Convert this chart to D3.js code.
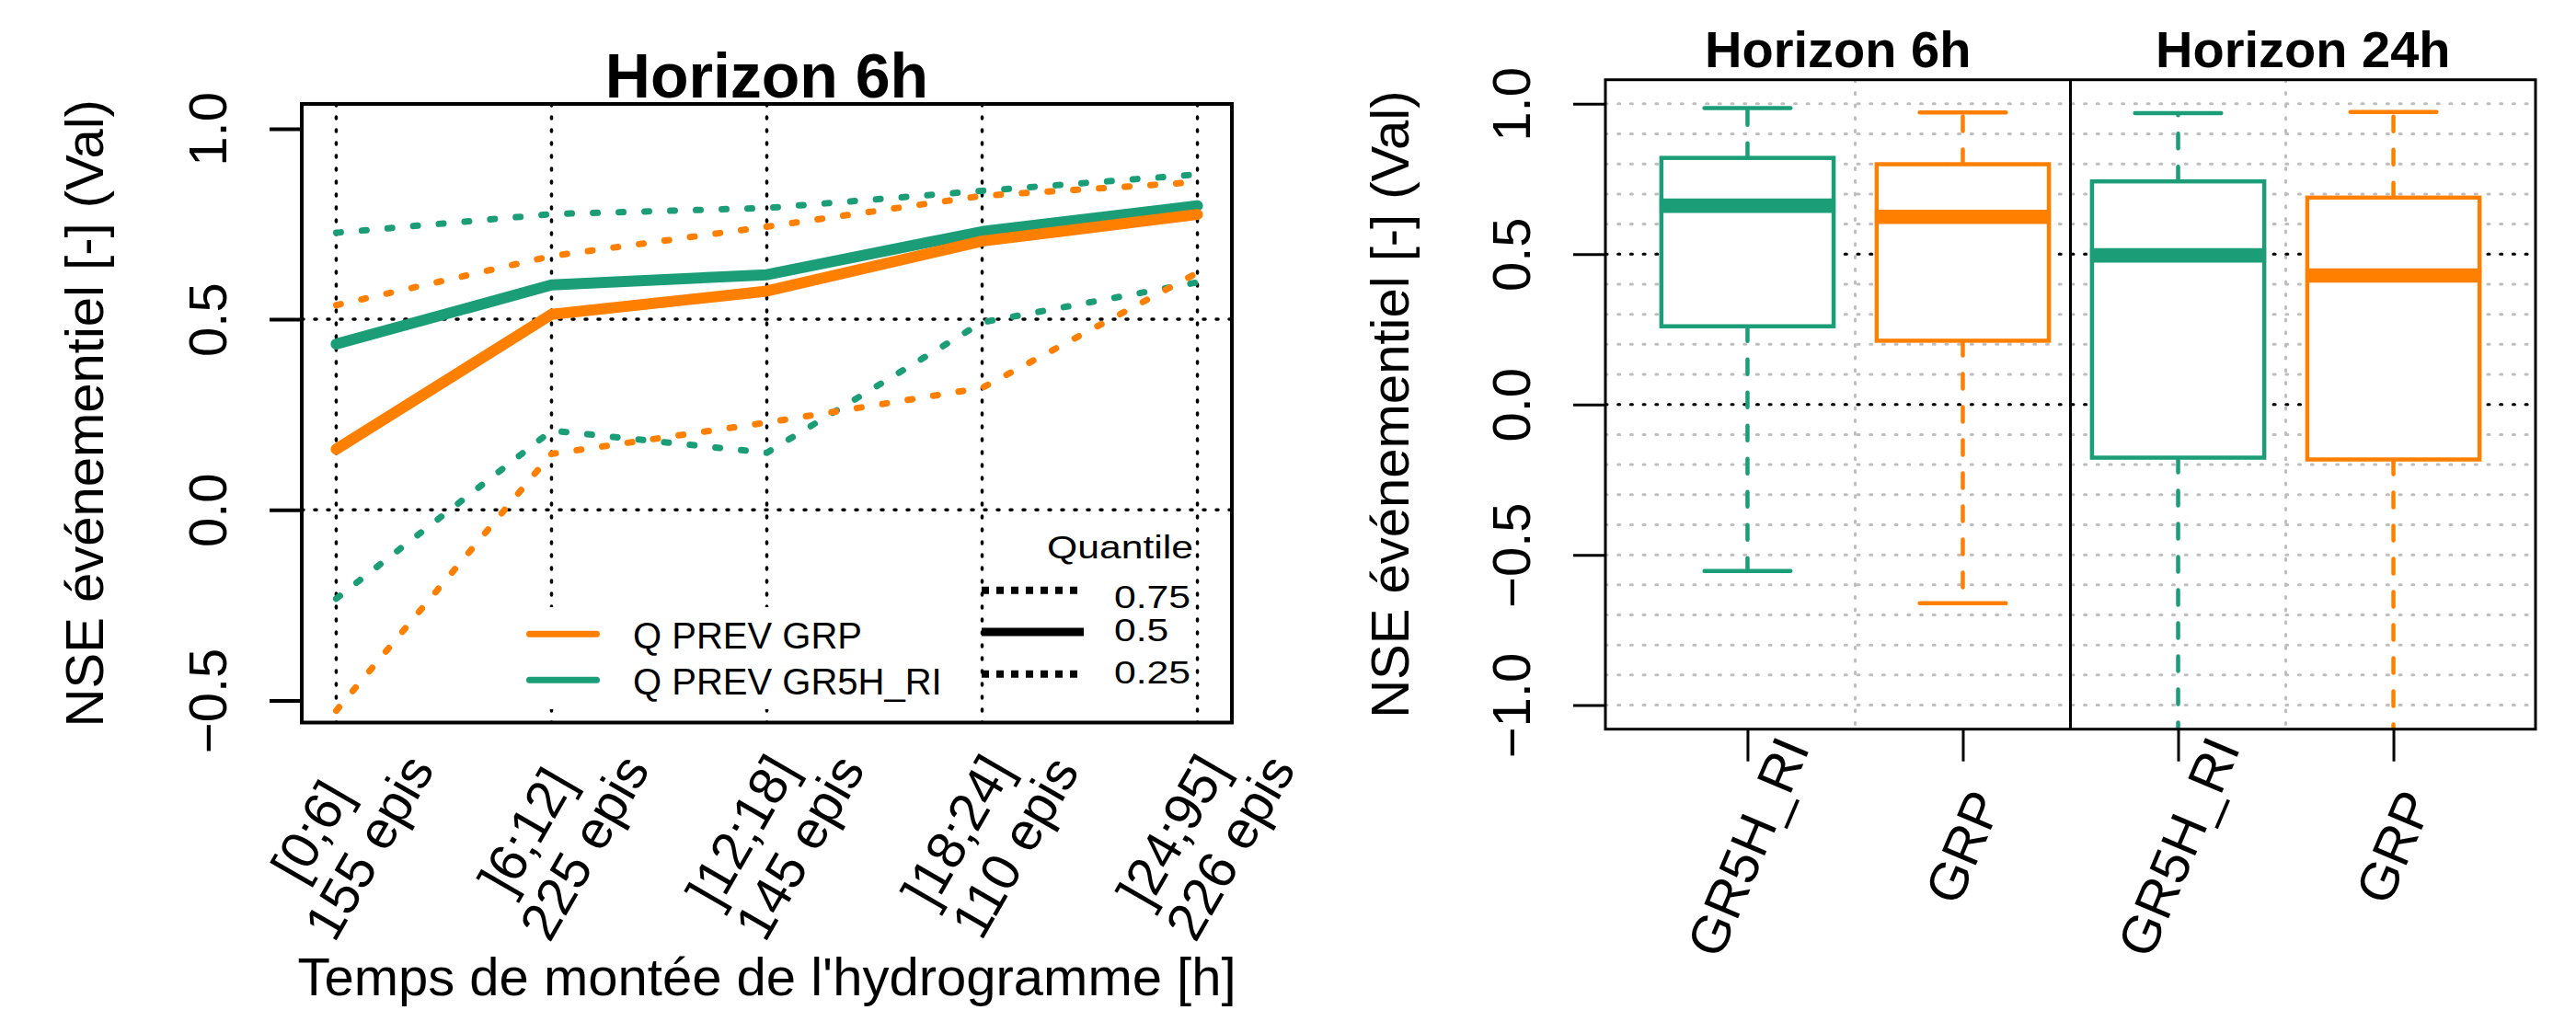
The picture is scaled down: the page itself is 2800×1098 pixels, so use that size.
<!DOCTYPE html>
<html><head><meta charset="utf-8">
<script src="https://cdn.jsdelivr.net/npm/d3@7"></script>
<style>
body{margin:0;background:#fff}
svg{display:block}
text{font-family:"Liberation Sans",Arial,sans-serif;fill:#000}
</style>
</head><body>
<svg id="c" width="2800" height="1098"></svg>
<script>
// ---------------- DATA ----------------
const categories = ["[0;6]", "]6;12]", "]12;18]", "]18;24]", "]24;95]"];
const episodes   = [155, 225, 145, 110, 226];
const seriesNames = ["Q PREV GRP", "Q PREV GR5H_RI"];
const grpQ25  = [-0.527, 0.147, 0.229, 0.320, 0.622];
const grpQ50  = [0.159, 0.513, 0.574, 0.705, 0.775];
const grpQ75  = [0.537, 0.666, 0.743, 0.824, 0.860];
const gr5hQ25 = [-0.233, 0.208, 0.150, 0.492, 0.597];
const gr5hQ50 = [0.435, 0.590, 0.617, 0.730, 0.798];
const gr5hQ75 = [0.727, 0.776, 0.792, 0.837, 0.880];
const quantileLabels = ["0.75", "0.5", "0.25"];
const yTicksLeft = [-0.5, 0, 0.5, 1];

const horizons  = ["Horizon 6h", "Horizon 24h"];
const boxModels = ["GR5H_RI", "GRP", "GR5H_RI", "GRP"];
const boxLow  = [-0.554, -0.661, -1.25, -1.25];
const boxQ1   = [0.260, 0.212, -0.177, -0.183];
const boxMed  = [0.661, 0.624, 0.496, 0.429];
const boxQ3   = [0.820, 0.799, 0.742, 0.688];
const boxHigh = [0.986, 0.971, 0.969, 0.973];
const yTicksRight = [-1, -0.5, 0, 0.5, 1];
const yGridRight = d3.range(-10, 11).map(k => k / 10);

// ---------------- STYLE ----------------
const GREEN = "#1B9E77", ORANGE = "#FF7F00", GRAY = "#BEBEBE";
const FS = 58;
const svg = d3.select("#c");
svg.append("rect").attr("width", 2800).attr("height", 1098).attr("fill", "#fff");
const defs = svg.append("defs");

// ================= LEFT PANEL =================
const L = {x0: 328, x1: 1339, y0: 113, y1: 785.5};
const xL = d3.scaleLinear().domain([0.84, 5.16]).range([L.x0, L.x1]);
const yL = d3.scaleLinear().domain([-0.558, 1.065]).range([L.y1, L.y0]);
defs.append("clipPath").attr("id", "clipL").append("rect")
  .attr("x", L.x0).attr("y", L.y0).attr("width", L.x1 - L.x0).attr("height", L.y1 - L.y0);
const gL = svg.append("g");
const gLc = gL.append("g").attr("clip-path", "url(#clipL)");

// grid
gLc.selectAll("line.vg").data(categories).join("line")
  .attr("x1", (d, i) => xL(i + 1)).attr("x2", (d, i) => xL(i + 1))
  .attr("y1", L.y0).attr("y2", L.y1)
  .attr("stroke", "#000").attr("stroke-width", 3.5).attr("stroke-dasharray", "2,12").attr("stroke-linecap", "round");
gLc.selectAll("line.hg").data([0, 0.5]).join("line")
  .attr("x1", L.x0).attr("x2", L.x1).attr("y1", d => yL(d)).attr("y2", d => yL(d))
  .attr("stroke", "#000").attr("stroke-width", 3.5).attr("stroke-dasharray", "2,12").attr("stroke-linecap", "round");

// lines
const lineL = d3.line().x((d, i) => xL(i + 1)).y(d => yL(d));
const series = [
  {color: GREEN,  q75: gr5hQ75, q50: gr5hQ50, q25: gr5hQ25},
  {color: ORANGE, q75: grpQ75,  q50: grpQ50,  q25: grpQ25}
];
series.forEach(s => {
  [s.q75, s.q25].forEach(arr => {
    gLc.append("path").attr("d", lineL(arr)).attr("fill", "none")
      .attr("stroke", s.color).attr("stroke-width", 7)
      .attr("stroke-dasharray", "5,23").attr("stroke-linecap", "round").attr("stroke-linejoin", "round");
  });
});
series.forEach(s => {
  gLc.append("path").attr("d", lineL(s.q50)).attr("fill", "none")
    .attr("stroke", s.color).attr("stroke-width", 12)
    .attr("stroke-linecap", "round").attr("stroke-linejoin", "round");
});

// legend 1 (series)
gL.append("rect").attr("x", 548).attr("y", 660).attr("width", 500).attr("height", 111).attr("fill", "#fff");
const legCols = [ORANGE, GREEN];
seriesNames.forEach((nm, i) => {
  const y = 689.3 + i * 50;
  gL.append("line").attr("x1", 575.5).attr("x2", 648.5).attr("y1", y).attr("y2", y)
    .attr("stroke", legCols[i]).attr("stroke-width", 7).attr("stroke-linecap", "round");
  gL.append("text").attr("x", 688).attr("y", y + 15.5).attr("font-size", 40).text(nm);
});

// legend 2 (quantiles)
const qFont = "Lato, 'Open Sans', sans-serif";
gL.append("text").attr("transform", "translate(1138,607) scale(1.22,1)")
  .attr("font-family", qFont).attr("font-size", 35).text("Quantile");
const qLineY = [641.7, 687, 732.7];
const qTextY = [660.7, 697.3, 743.3];
quantileLabels.forEach((lab, i) => {
  const dotted = lab !== "0.5";
  gL.append("line").attr("x1", 1067).attr("x2", dotted ? 1172 : 1178)
    .attr("y1", qLineY[i]).attr("y2", qLineY[i])
    .attr("stroke", "#000").attr("stroke-width", dotted ? 8 : 9)
    .attr("stroke-dasharray", dotted ? "8,8" : null);
  gL.append("text").attr("transform", `translate(1211,${qTextY[i]}) scale(1.22,1)`)
    .attr("font-family", qFont).attr("font-size", 35).text(lab);
});

// frame
gL.append("rect").attr("x", L.x0).attr("y", L.y0).attr("width", L.x1 - L.x0).attr("height", L.y1 - L.y0)
  .attr("fill", "none").attr("stroke", "#000").attr("stroke-width", 4);

// y axis
const axL = gL.append("g").attr("transform", `translate(${L.x0},0)`)
  .call(d3.axisLeft(yL).tickValues(yTicksLeft).tickSize(35).tickFormat(d3.format(".1f")));
axL.select(".domain").remove();
axL.selectAll(".tick line").attr("stroke", "#000").attr("stroke-width", 4);
axL.selectAll(".tick text").attr("x", null).attr("dy", null)
  .attr("transform", "translate(-82,0) rotate(-90)").attr("text-anchor", "middle")
  .attr("font-size", FS).attr("font-family", '"Liberation Sans",Arial,sans-serif').attr("fill", "#000");

// x labels (two lines, rotated 60)
const xlab = gL.selectAll("g.xl").data(categories).join("g")
  .attr("transform", (d, i) => `translate(${xL(i + 1) + 4},912) rotate(-60)`);
xlab.append("text").attr("x", -8).attr("y", -31.5).attr("dy", "0.35em").attr("text-anchor", "middle")
  .attr("font-size", FS).text(d => d);
xlab.append("text").attr("x", 8).attr("y", 31.5).attr("dy", "0.35em").attr("text-anchor", "middle")
  .attr("font-size", FS).text((d, i) => episodes[i] + " epis");

// titles
gL.append("text").attr("x", (L.x0 + L.x1) / 2).attr("y", 1081.7).attr("text-anchor", "middle")
  .attr("font-size", FS).text("Temps de montée de l'hydrogramme [h]");
gL.append("text").attr("transform", `translate(112,${(L.y0 + L.y1) / 2}) rotate(-90)`).attr("text-anchor", "middle")
  .attr("font-size", FS).text("NSE événementiel [-] (Val)");
gL.append("text").attr("x", (L.x0 + L.x1) / 2).attr("y", 106).attr("text-anchor", "middle")
  .attr("font-size", 68).attr("font-weight", "bold").text("Horizon 6h");

// ================= RIGHT PANEL =================
const R = {x0: 1745, x1: 2756, y0: 86.7, y1: 792.7};
const xR = d3.scaleLinear().domain([0.34, 4.66]).range([R.x0, R.x1]);
const yR = d3.scaleLinear().domain([-1.08, 1.08]).range([R.y1, R.y0]);
defs.append("clipPath").attr("id", "clipR").append("rect")
  .attr("x", R.x0).attr("y", R.y0).attr("width", R.x1 - R.x0).attr("height", R.y1 - R.y0);
const gR = svg.append("g");
const gRc = gR.append("g").attr("clip-path", "url(#clipR)");

gRc.selectAll("line.gh").data(yGridRight).join("line")
  .attr("x1", R.x0).attr("x2", R.x1).attr("y1", d => yR(d)).attr("y2", d => yR(d))
  .attr("stroke", GRAY).attr("stroke-width", 3).attr("stroke-dasharray", "2,11.7").attr("stroke-linecap", "round");
gRc.selectAll("line.gv").data([1.5, 3.5]).join("line")
  .attr("x1", d => xR(d)).attr("x2", d => xR(d)).attr("y1", R.y0).attr("y2", R.y1)
  .attr("stroke", GRAY).attr("stroke-width", 3).attr("stroke-dasharray", "2,11.7").attr("stroke-linecap", "round");
gRc.selectAll("line.gb").data([0, 0.5]).join("line")
  .attr("x1", R.x0).attr("x2", R.x1).attr("y1", d => yR(d)).attr("y2", d => yR(d))
  .attr("stroke", "#000").attr("stroke-width", 3).attr("stroke-dasharray", "2,11.7").attr("stroke-linecap", "round");

const boxCols = boxModels.map(m => m === "GRP" ? ORANGE : GREEN);
boxModels.forEach((m, i) => {
  const cx = xR(i + 1), hw = xR(i + 1.4) - cx, cw = xR(i + 1.2) - cx, col = boxCols[i];
  // whiskers
  [[boxQ3[i], boxHigh[i]], [boxQ1[i], boxLow[i]]].forEach(([a, b]) => {
    gRc.append("line").attr("x1", cx).attr("x2", cx).attr("y1", yR(a)).attr("y2", yR(b))
      .attr("stroke", col).attr("stroke-width", 4.5).attr("stroke-dasharray", "16,20").attr("stroke-linecap", "round");
    gRc.append("line").attr("x1", cx - cw).attr("x2", cx + cw).attr("y1", yR(b)).attr("y2", yR(b))
      .attr("stroke", col).attr("stroke-width", 4.5).attr("stroke-linecap", "round");
  });
  gRc.append("rect").attr("x", cx - hw).attr("width", 2 * hw)
    .attr("y", yR(boxQ3[i])).attr("height", yR(boxQ1[i]) - yR(boxQ3[i]))
    .attr("fill", "#fff").attr("stroke", col).attr("stroke-width", 4.5);
  gRc.append("line").attr("x1", cx - hw - 2).attr("x2", cx + hw + 2).attr("y1", yR(boxMed[i])).attr("y2", yR(boxMed[i]))
    .attr("stroke", col).attr("stroke-width", 15.7);
});

// divider and frame
gR.append("line").attr("x1", xR(2.5)).attr("x2", xR(2.5)).attr("y1", R.y0).attr("y2", R.y1)
  .attr("stroke", "#000").attr("stroke-width", 3);
gR.append("rect").attr("x", R.x0).attr("y", R.y0).attr("width", R.x1 - R.x0).attr("height", R.y1 - R.y0)
  .attr("fill", "none").attr("stroke", "#000").attr("stroke-width", 3);

// y axis
const axR = gR.append("g").attr("transform", `translate(${R.x0},0)`)
  .call(d3.axisLeft(yR).tickValues(yTicksRight).tickSize(35).tickFormat(d3.format(".1f")));
axR.select(".domain").remove();
axR.selectAll(".tick line").attr("stroke", "#000").attr("stroke-width", 3);
axR.selectAll(".tick text").attr("x", null).attr("dy", null)
  .attr("transform", "translate(-82,0) rotate(-90)").attr("text-anchor", "middle")
  .attr("font-size", FS).attr("font-family", '"Liberation Sans",Arial,sans-serif').attr("fill", "#000");

// x axis
const axRx = gR.append("g").attr("transform", `translate(0,${R.y1})`)
  .call(d3.axisBottom(xR).tickValues([1, 2, 3, 4]).tickSize(35).tickFormat((d) => boxModels[d - 1]));
axRx.select(".domain").remove();
axRx.selectAll(".tick line").attr("stroke", "#000").attr("stroke-width", 3);
axRx.selectAll(".tick text").attr("y", null).attr("dy", "0.35em")
  .attr("transform", "translate(0,128) rotate(-67)").attr("text-anchor", "middle")
  .attr("font-size", FS).attr("font-family", '"Liberation Sans",Arial,sans-serif').attr("fill", "#000");

// titles
horizons.forEach((h, k) => {
  const a = k === 0 ? R.x0 : xR(2.5), b = k === 0 ? xR(2.5) : R.x1;
  gR.append("text").attr("x", (a + b) / 2).attr("y", 73.3).attr("text-anchor", "middle")
    .attr("font-size", 56).attr("font-weight", "bold").text(h);
});
gR.append("text").attr("transform", `translate(1531,${(R.y0 + R.y1) / 2}) rotate(-90)`).attr("text-anchor", "middle")
  .attr("font-size", FS).text("NSE événementiel [-] (Val)");
</script>
</body></html>
